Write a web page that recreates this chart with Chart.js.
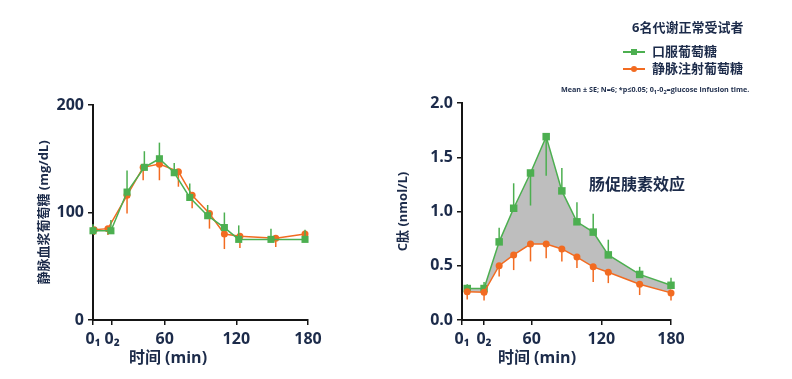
<!DOCTYPE html>
<html>
<head>
<meta charset="utf-8">
<script src="https://cdn.jsdelivr.net/npm/chart.js@4/dist/chart.umd.min.js"></script>
<style>
  html,body{margin:0;padding:0;background:#fff;}
  #wrap{position:relative;width:792px;height:379px;overflow:hidden;font-family:'Open Sans','Noto Sans CJK SC',sans-serif;color:#1c2b4a;font-weight:bold;}
  canvas{position:absolute;top:0;}
  .t{position:absolute;white-space:nowrap;line-height:1;}
  .xt{transform:translate(-50%,-50%);font-size:16px;}
  .leg-line{position:absolute;height:2px;}
  .leg-sq{position:absolute;width:6px;height:6px;}
  .leg-ci{position:absolute;width:6px;height:6px;border-radius:50%;}
</style>
</head>
<body>
<div id="wrap">
  <canvas id="left" width="390" height="379" style="left:0px"></canvas>
  <canvas id="right" width="412" height="379" style="left:380px"></canvas>

  <div class="t xt" style="left:168px;top:357px;">时间 (min)</div>
  <div class="t xt" style="left:537px;top:357px;">时间 (min)</div>
  <div class="t" style="left:589px;top:176px;font-size:16px;">肠促胰素效应</div>

  <div class="t" style="left:632px;top:21px;font-size:13px;">6名代谢正常受试者</div>
  <div class="leg-line" style="left:623px;top:51px;width:22px;background:#4caf50;"></div>
  <div class="leg-sq" style="left:631px;top:49px;background:#4caf50;"></div>
  <div class="t" style="left:652px;top:45px;font-size:13px;">口服葡萄糖</div>
  <div class="leg-line" style="left:623px;top:68px;width:22px;background:#f26b21;"></div>
  <div class="leg-ci" style="left:631px;top:66px;background:#f26b21;"></div>
  <div class="t" style="left:652px;top:62px;font-size:13px;">静脉注射葡萄糖</div>
  <div class="t" style="left:561px;top:86px;font-size:7.2px;">Mean ± SE; N=6; *p≤0.05; 0<sub style="font-size:5.5px">1</sub>-0<sub style="font-size:5.5px">2</sub>=glucose infusion time.</div>
</div>
<script>
// ---- Data ----
const xTickValuesLeft = [0, 16, 60, 120, 180];
const xTickValuesRight = [0, 19, 60, 120, 180];
const xTickLabels = ['0\u2081', '0\u2082', '60', '120', '180'];

// Left panel: plasma glucose (mg/dL)
const leftOralTime = [0, 15, 28.5, 43, 55.6, 68, 81, 96, 110, 122, 149, 177.5];
const leftOralGlucose = [83, 83, 119, 142, 150, 137, 114, 97, 86, 75, 75, 75];
const leftOralErr = [6, 10, 20, 15, 15, 9, 13, 10, 14, 13, 10, 9];
const leftIVTime = [1, 12.5, 28.5, 42, 55.6, 71.5, 83, 97.5, 110, 123, 153, 177.5];
const leftIVGlucose = [84, 85, 116, 142, 145, 138, 116, 99, 80, 78, 76, 80];
const leftIVErr = [-5, -6, -17, -12, -15, -14, -12, -14, -14, -11, -8, -5];

// Right panel: C-peptide (nmol/L)
const rightTime = [4.5, 19, 32, 44.5, 59, 72.5, 86, 99, 113, 126, 153, 180];
const rightOralCpep = [0.29, 0.29, 0.72, 1.03, 1.355, 1.69, 1.19, 0.905, 0.81, 0.60, 0.42, 0.32];
const rightOralErr = [0.04, 0.06, 0.13, 0.23, -0.30, -0.36, 0.21, 0.18, 0.17, 0.14, 0.07, 0.07];
const rightIVCpep = [0.26, 0.255, 0.50, 0.60, 0.70, 0.70, 0.655, 0.58, 0.49, 0.44, 0.33, 0.25];
const rightIVErr = [-0.07, -0.075, -0.10, -0.14, -0.16, -0.13, -0.115, -0.10, -0.14, -0.10, -0.10, -0.07];

// ---- Styles ----
const GREEN = '#4caf50';
const ORANGE = '#f26b21';
const GRAY = '#bebebe';
const TEXT = '#1c2b4a';
const AXIS = '#151515';
const FONT = "'Open Sans','Noto Sans CJK SC',sans-serif";

const pts = (xs, ys) => xs.map((x, i) => ({x, y: ys[i]}));

const errorBarPlugin = {
  id: 'errbars',
  beforeDatasetDraw(chart, args) {
    const ds = chart.data.datasets[args.index];
    if (!ds.errors) return;
    const ctx = chart.ctx;
    const xs = chart.scales.x, ys = chart.scales.y;
    ctx.save();
    ctx.strokeStyle = ds.borderColor;
    ctx.lineWidth = 1.5;
    ds.data.forEach((p, i) => {
      const px = xs.getPixelForValue(p.x);
      ctx.beginPath();
      ctx.moveTo(px, ys.getPixelForValue(p.y));
      ctx.lineTo(px, ys.getPixelForValue(p.y + ds.errors[i]));
      ctx.stroke();
    });
    ctx.restore();
  }
};

function makeChart(id, cfg) {
  return new Chart(document.getElementById(id), {
    type: 'line',
    data: { datasets: cfg.datasets },
    options: {
      responsive: false,
      animation: false,
      devicePixelRatio: 1,
      layout: { padding: cfg.padding },
      plugins: { legend: { display: false }, tooltip: { enabled: false } },
      scales: {
        x: {
          type: 'linear', min: 0, max: 180,
          afterBuildTicks: s => { s.ticks = cfg.xTicks.map(v => ({value: v})); },
          afterFit: s => { s.height = 59; },
          ticks: {
            autoSkip: false, maxRotation: 0, padding: 5, color: TEXT,
            font: { family: FONT, size: 16, weight: 'bold' },
            callback: (v, i) => xTickLabels[i]
          },
          grid: { drawOnChartArea: false, drawTicks: true, tickLength: 5, color: AXIS, lineWidth: 1.5 },
          border: { display: true, color: AXIS, width: 2 }
        },
        y: {
          type: 'linear', min: 0, max: cfg.yMax,
          afterFit: s => { s.width = cfg.yWidth; },
          ticks: {
            stepSize: cfg.yStep, padding: 4, color: TEXT,
            font: { family: FONT, size: 16, weight: 'bold' },
            callback: cfg.yFmt
          },
          grid: { drawOnChartArea: false, drawTicks: true, tickLength: 5, color: AXIS, lineWidth: 1.5 },
          border: { display: true, color: AXIS, width: 2 },
          title: {
            display: true, text: cfg.yTitle, color: TEXT,
            font: { family: FONT, size: 13, weight: 'bold' },
            padding: { top: cfg.yTitlePad, bottom: 0 }
          }
        }
      }
    },
    plugins: [errorBarPlugin]
  });
}

makeChart('left', {
  padding: { left: 0, right: 82, top: 105, bottom: 0 },
  yWidth: 93, yMax: 200, yStep: 100, yFmt: v => v,
  yTitle: '静脉血浆葡萄糖 (mg/dL)', yTitlePad: 36,
  xTicks: xTickValuesLeft,
  datasets: [
    {
      label: '口服葡萄糖', data: pts(leftOralTime, leftOralGlucose), errors: leftOralErr,
      borderColor: GREEN, backgroundColor: GREEN, borderWidth: 1.5,
      pointStyle: 'rect', pointRadius: 5, pointBackgroundColor: GREEN, pointBorderWidth: 0,
      fill: false, tension: 0, clip: false, order: 1
    },
    {
      label: '静脉注射葡萄糖', data: pts(leftIVTime, leftIVGlucose), errors: leftIVErr,
      borderColor: ORANGE, backgroundColor: ORANGE, borderWidth: 1.5,
      pointStyle: 'circle', pointRadius: 3.5, pointBackgroundColor: ORANGE, pointBorderWidth: 0,
      fill: false, tension: 0, clip: false, order: 2
    }
  ]
});

makeChart('right', {
  padding: { left: 0, right: 121, top: 103, bottom: 0 },
  yWidth: 82, yMax: 2, yStep: 0.5, yFmt: v => Number(v).toFixed(1),
  yTitle: 'C肽 (nmol/L)', yTitlePad: 15,
  xTicks: xTickValuesRight,
  datasets: [
    {
      label: '口服葡萄糖', data: pts(rightTime, rightOralCpep), errors: rightOralErr,
      borderColor: GREEN, backgroundColor: GRAY, borderWidth: 1.5,
      pointStyle: 'rect', pointRadius: 5.3, pointBackgroundColor: GREEN, pointBorderWidth: 0,
      fill: '+1', tension: 0, clip: false, order: 2
    },
    {
      label: '静脉注射葡萄糖', data: pts(rightTime, rightIVCpep), errors: rightIVErr,
      borderColor: ORANGE, backgroundColor: ORANGE, borderWidth: 1.5,
      pointStyle: 'circle', pointRadius: 3.5, pointBackgroundColor: ORANGE, pointBorderWidth: 0,
      fill: false, tension: 0, clip: false, order: 1
    }
  ]
});
</script>
</body>
</html>
